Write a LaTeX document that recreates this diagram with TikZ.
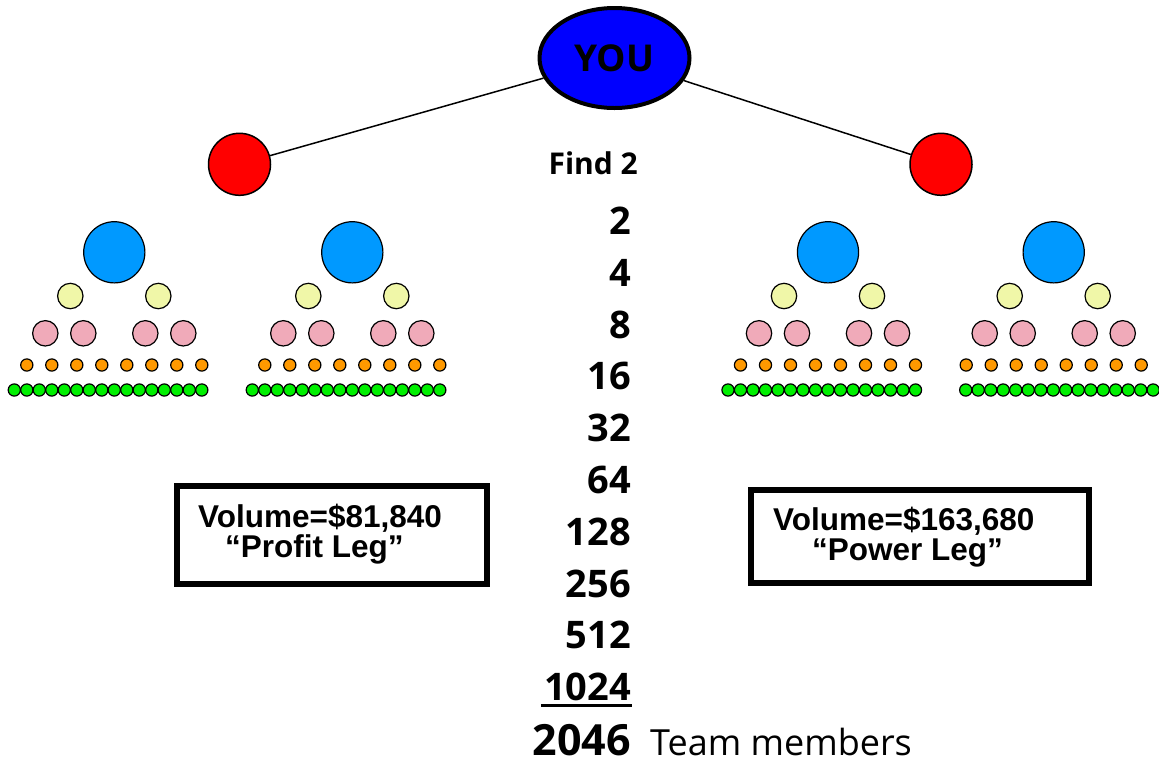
\documentclass[tikz,border=0pt]{standalone}
\usepackage{fontspec}
\newfontfamily\comicfont{Open Sans}
\newfontfamily\arialfont{Liberation Sans}
\usetikzlibrary{shapes.geometric}

\definecolor{youblue}{RGB}{0,0,255}
\definecolor{legred}{RGB}{255,0,0}
\definecolor{lineblue}{RGB}{0,153,255}
\definecolor{lineyellow}{RGB}{240,247,168}
\definecolor{linepink}{RGB}{240,170,185}
\definecolor{lineorange}{RGB}{255,153,0}
\definecolor{linegreen}{RGB}{0,240,0}

\tikzset{
  member/.style={draw=black, line width=1.2pt},
  leg/.style={circle, draw=black, line width=1.5pt, fill=legred, minimum size=62pt, inner sep=0pt},
  count/.style={font=\comicfont\bfseries\fontsize{38}{38}\selectfont, anchor=base east, inner sep=0pt},
  volume/.style={font=\arialfont\bfseries\fontsize{31.5}{31.5}\selectfont, anchor=base west, inner sep=0pt},
  legbox/.style={draw=black, line width=5.5pt}
}

% one downline: #1 = centre x, #2 = offset of the green row
\newcommand{\teamtree}[2]{%
  \draw[member, fill=lineblue] (#1,252.3) circle[radius=30.6pt];
  \foreach \dx in {-44,44}
    \draw[member, fill=lineyellow] ({#1+(\dx)},296) circle[radius=12.7pt];
  \foreach \dx in {-69,-31,31,69}
    \draw[member, fill=linepink] ({#1+(\dx)},333.3) circle[radius=12.7pt];
  \foreach \k in {0,...,7}
    \draw[member, fill=lineorange] ({#1-87.5+25*\k},365) circle[radius=6.1pt];
  \foreach \k in {0,...,15}
    \draw[member, fill=linegreen] ({#1+(#2)+12.5*\k},390) circle[radius=6.1pt];
}

\begin{document}
\begin{tikzpicture}[x=1pt,y=-1pt]
    \useasboundingbox (0,0) rectangle (1159,764);

    % Top of the tree
    \node[ellipse, draw=black, line width=4pt, fill=youblue, minimum width=150pt,
          minimum height=100pt, inner sep=0pt,
          font=\comicfont\bfseries\fontsize{37}{37}\selectfont] (you) at (614.5,58) {YOU};
    \node[leg] (redL) at (239.5,164.3) {};
    \node[leg] (redR) at (941,164.3) {};
    \draw[line width=1.5pt] (you) -- (redL);
    \draw[line width=1.5pt] (you) -- (redR);

    % Downlines
    \teamtree{114.3}{-100}
    \teamtree{352.3}{-100}
    \teamtree{828}{-100}
    \teamtree{1053.7}{-88}

    % Count column
    \node[count, font=\comicfont\bfseries\fontsize{30}{30}\selectfont] (find) at (638,174) {Find 2};
    \foreach \n [count=\i] in {2,4,8,16,32,64,128,256,512,1024} {
        \node[count] (num\i) at (631,{221+51.8*(\i-1)+13.5}) {\n};
    }
    \draw[line width=3pt] ([xshift=-3pt,yshift=-5pt]num10.base west) -- ([xshift=1pt,yshift=-5pt]num10.base east);
    \node[count, font=\comicfont\bfseries\fontsize{43}{43}\selectfont] (total) at (631,755) {2046};
    \node[anchor=base west, inner sep=0pt, font=\comicfont\fontsize{36}{36}\selectfont] (team) at (650,755) {Team members};

    % Volume boxes
    \draw[legbox] (177,486) rectangle (487,584);
    \node[volume] (profitvol) at (198,527) {Volume=\$81,840};
    \node[volume] (profitname) at (225,557) {“Profit Leg”};
    \draw[legbox] (751,490) rectangle (1089,583);
    \node[volume] (powervol) at (773,530) {Volume=\$163,680};
    \node[volume] (powername) at (812,560) {“Power Leg”};
\end{tikzpicture}
\end{document}
